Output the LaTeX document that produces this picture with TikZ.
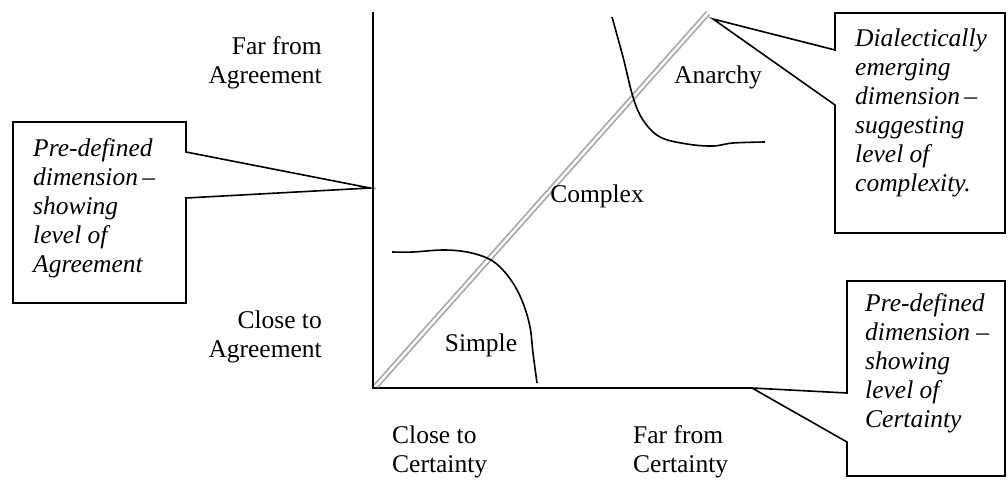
\documentclass[tikz,border=0pt]{standalone}
\usepackage{fontspec}
\setmainfont{Liberation Serif}
\begin{document}
\begin{tikzpicture}[x=1pt,y=-1pt,
  lbl/.style={font=\fontsize{25.5}{29}\selectfont, inner sep=0pt},
  note/.style={font=\fontsize{25.5}{29}\selectfont\itshape, align=left, inner sep=0pt},
  axisline/.style={line width=1.8pt, line join=miter},
  curveline/.style={line width=1.6pt},
  boxline/.style={line width=1.6pt, line join=miter},
  diag/.style={double=white, draw=gray!70, line width=1.7pt, double distance=2.4pt}
  ]
\useasboundingbox (0,0) rectangle (1008,481);
% axes
\coordinate (O) at (373,388);
\coordinate (Ytop) at (373,12);
\coordinate (Xend) at (752,388);
\coordinate (Dbot) at (376,386);
\coordinate (Dtop) at (708,13);
\draw[axisline] (Ytop) -- (O) -- (Xend);
\draw[diag] (Dbot) -- (Dtop);
% curves
\draw[curveline] plot[smooth, tension=0.6] coordinates {(612,17) (623,57) (633,97) (643,120) (660,137) (687,144) (713,146) (733,143) (765,142)};
\draw[curveline] plot[smooth, tension=0.6] coordinates {(392,252) (413,252) (443,250) (467,252) (487,258) (500,267) (513,283) (523,303) (530,327) (533,353) (537,383)};
% axis labels
\node[lbl, align=right, anchor=east] (farA) at (322,63) {Far from\\Agreement};
\node[lbl, align=right, anchor=east] (closeA) at (322,337) {Close to\\Agreement};
\node[lbl, align=left, anchor=west] (closeC) at (392,452) {Close to\\Certainty};
\node[lbl, align=left, anchor=west] (farC) at (633,452) {Far from\\Certainty};
% region labels
\node[lbl] (simple) at (481,345) {Simple};
\node[lbl] (complex) at (597,196) {Complex};
\node[lbl] (anarchy) at (718,77) {Anarchy};
% callout boxes
\coordinate (Ltip) at (370,188);
\draw[boxline] (13,122) -- (186,122) -- (186,152) -- (Ltip) -- (186,198) -- (186,303) -- (13,303) -- cycle;
\node[note, anchor=west] (noteA) at (33,208) {Pre-defined\\dimension\,–\\showing\\level of\\Agreement};
\coordinate (Ttip) at (713,19);
\draw[boxline] (835,13) -- (1005,13) -- (1005,233) -- (835,233) -- (835,105) -- (Ttip) -- (835,50) -- cycle;
\node[note, anchor=west] (noteD) at (855,113) {Dialectically\\emerging\\dimension\,–\\suggesting\\level of\\complexity.};
\draw[boxline] (847,281) -- (1005,281) -- (1005,476) -- (847,476) -- (847,442) -- (Xend) -- (847,393) -- cycle;
\node[note, anchor=west] (noteC) at (865,363) {Pre-defined\\dimension –\\showing\\level of\\Certainty};
\end{tikzpicture}
\end{document}
